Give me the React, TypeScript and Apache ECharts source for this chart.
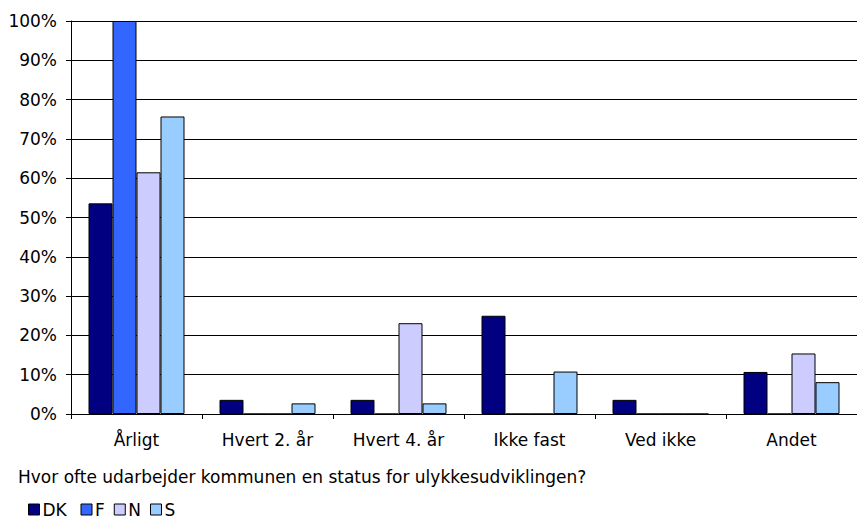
import React, { useEffect, useRef } from "react";
import * as echarts from "echarts";

const categories = ["Årligt", "Hvert 2. år", "Hvert 4. år", "Ikke fast", "Ved ikke", "Andet"];
const seriesNames = ["DK", "F", "N", "S"];
const dk = [53.6, 3.6, 3.6, 25.0, 3.6, 10.7];
const f = [100, 0, 0, 0, 0, 0];
const n = [61.5, 0, 23.1, 0, 0, 15.4];
const s = [75.7, 2.7, 2.7, 10.8, 0, 8.1];
const colors = ["#000080", "#3366FF", "#CCCCFF", "#99CCFF"];
const questionText = "Hvor ofte udarbejder kommunen en status for ulykkesudviklingen?";

const FONT = "'DejaVu Sans', Verdana, sans-serif";
const FS = 17;

export default function App() {
  const ref = useRef<HTMLDivElement>(null);
  useEffect(() => {
    document.body.style.margin = "0";
    const chart = echarts.init(ref.current!, null, { renderer: "svg" });
    const values = [dk, f, n, s];
    chart.setOption({
      animation: false,
      textStyle: { fontFamily: FONT },
      title: {
        text: questionText,
        left: 18,
        top: 468,
        padding: 0,
        textStyle: { fontSize: FS, fontWeight: "normal", color: "#000", fontFamily: FONT },
      },
      legend: {
        left: 28,
        top: 501,
        padding: 0,
        itemWidth: 11,
        itemHeight: 11,
        itemGap: 9,
        icon: "rect",
        itemStyle: { borderColor: "#000", borderWidth: 1 },
        formatter: (name: string) => (name === "DK" ? `{w|${name}}` : name),
        textStyle: {
          fontSize: FS,
          lineHeight: 15,
          color: "#000",
          fontFamily: FONT,
          padding: [0, 0, 0, -2],
          rich: { w: { width: 29, fontSize: FS, lineHeight: 15, fontFamily: FONT, color: "#000" } },
        },
        data: seriesNames,
      },
      grid: { left: 71, right: 0, top: 21, bottom: 106, containLabel: false },
      xAxis: {
        type: "category",
        data: categories,
        axisLine: { lineStyle: { color: "#000", width: 1 } },
        axisTick: { show: true, length: 5, lineStyle: { color: "#000" } },
        axisLabel: { fontSize: FS, color: "#000", margin: 17, fontFamily: FONT },
        splitLine: { show: false },
      },
      yAxis: {
        type: "value",
        min: 0,
        max: 100,
        interval: 10,
        axisLine: { show: true, lineStyle: { color: "#000", width: 1 } },
        axisTick: { show: true, length: 5, lineStyle: { color: "#000" } },
        axisLabel: { fontSize: FS, color: "#000", margin: 14, formatter: "{value}%", fontFamily: FONT },
        splitLine: { show: true, lineStyle: { color: "#000", width: 1 } },
      },
      series: seriesNames.map((name, i) => ({
        name,
        type: "bar",
        data: values[i],
        barWidth: 24,
        barGap: "0%",
        itemStyle: { color: colors[i], borderColor: "#000", borderWidth: 1 },
      })),
    });
    return () => chart.dispose();
  }, []);
  return <div ref={ref} style={{ width: 857, height: 520 }} />;
}
